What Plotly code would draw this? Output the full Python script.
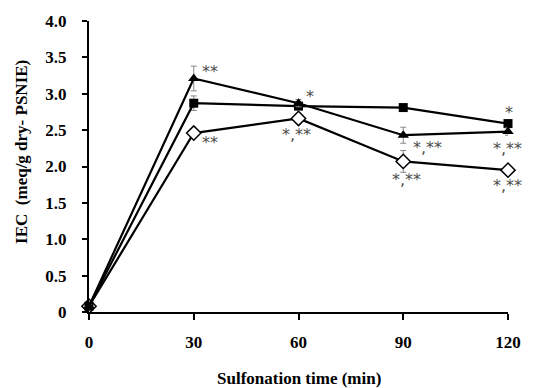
import plotly.graph_objects as go

time_min = [0, 30, 60, 90, 120]
iec_triangle = [0.08, 3.21, 2.87, 2.43, 2.48]
iec_square = [0.08, 2.87, 2.83, 2.81, 2.59]
iec_diamond = [0.08, 2.46, 2.66, 2.07, 1.95]
err_triangle = [0.02, 0.17, 0.05, 0.11, 0.05]
err_square = [0.02, 0.10, 0.03, 0.03, 0.04]
err_diamond = [0.02, 0.03, 0.05, 0.15, 0.03]

y_tickvals = [0, 0.5, 1.0, 1.5, 2.0, 2.5, 3.0, 3.5, 4.0]
y_ticktext = ["0", "0.5", "1.0", "1.5", "2.0", "2.5", "3.0", "3.5", "4.0"]
x_tickvals = [0, 30, 60, 90, 120]

# significance labels: (series, time index, text)
sig_series = ["tri", "dia", "sq", "dia", "tri", "dia", "sq", "tri", "dia"]
sig_index = [1, 1, 2, 2, 3, 3, 4, 4, 4]
sig_labels = ["**", "**", "*", "*,**", "*,**", "*,**", "*", "*,**", "*,**"]
# label offsets from their point, in pixels
sig_dx = [16, 16, 11, -2, 24, 3, 1, -1, -1]
sig_dy = [7, -9, 10, -16, -12, -18, 11, -17, -15]

series_y = {"tri": iec_triangle, "sq": iec_square, "dia": iec_diamond}

SERIF = "Liberation Serif, Times New Roman, serif"

fig = go.Figure()
err_style = dict(type="data", visible=True, color="#888888", thickness=1, width=3)

fig.add_trace(go.Scatter(
    x=time_min, y=iec_diamond, mode="lines+markers",
    line=dict(color="black", width=2.2),
    marker=dict(symbol="diamond", size=11, color="white", line=dict(color="black", width=1.5)),
    error_y=dict(array=err_diamond, **err_style), cliponaxis=False, showlegend=False))
fig.add_trace(go.Scatter(
    x=time_min, y=iec_square, mode="lines+markers",
    line=dict(color="black", width=2.2),
    marker=dict(symbol="square", size=9, color="black"),
    error_y=dict(array=err_square, **err_style), cliponaxis=False, showlegend=False))
fig.add_trace(go.Scatter(
    x=time_min, y=iec_triangle, mode="lines+markers",
    line=dict(color="black", width=2.2),
    marker=dict(symbol="triangle-up", size=10, color="black"),
    error_y=dict(array=err_triangle, **err_style), cliponaxis=False, showlegend=False))

for s, i, t, dx, dy in zip(sig_series, sig_index, sig_labels, sig_dx, sig_dy):
    fig.add_annotation(x=time_min[i], y=series_y[s][i], text=t, showarrow=False,
                       xshift=dx, yshift=dy,
                       font=dict(family="DejaVu Sans", size=16, color="#4d4d4d"))

fig.add_annotation(xref="paper", yref="paper", x=0.5, y=-0.228, yanchor="middle",
                   text="Sulfonation time (min)", showarrow=False,
                   font=dict(family=SERIF, size=17, color="black", weight="bold"))
fig.add_annotation(xref="paper", yref="paper", x=-0.16, y=0.55, xanchor="center", yanchor="middle",
                   text="IEC  (meq/g dry- PSNIE)", textangle=-90, showarrow=False,
                   font=dict(family=SERIF, size=17, color="black", weight="bold"))

fig.update_layout(
    width=533, height=388,
    margin=dict(l=89, r=17, t=21, b=76),
    paper_bgcolor="white", plot_bgcolor="white",
    font=dict(family=SERIF, size=16, color="black"),
    xaxis=dict(range=[0, 120], tickvals=x_tickvals, showgrid=False, zeroline=False,
               showline=True, linecolor="black", linewidth=2,
               ticks="outside", ticklen=6, tickwidth=2, tickcolor="black",
               tickfont=dict(family=SERIF, size=17, color="black", weight="bold"),
               ticklabelstandoff=8),
    yaxis=dict(range=[0, 4], tickvals=y_tickvals, ticktext=y_ticktext, showgrid=False, zeroline=False,
               showline=True, linecolor="black", linewidth=2,
               ticks="outside", ticklen=5, tickwidth=2, tickcolor="black",
               tickfont=dict(family=SERIF, size=17, color="black", weight="bold"),
               ticklabelstandoff=12),
)

fig.write_html("out.html", config={"displayModeBar": False},
               post_script="document.body.style.margin='0';document.body.style.overflow='hidden';")
